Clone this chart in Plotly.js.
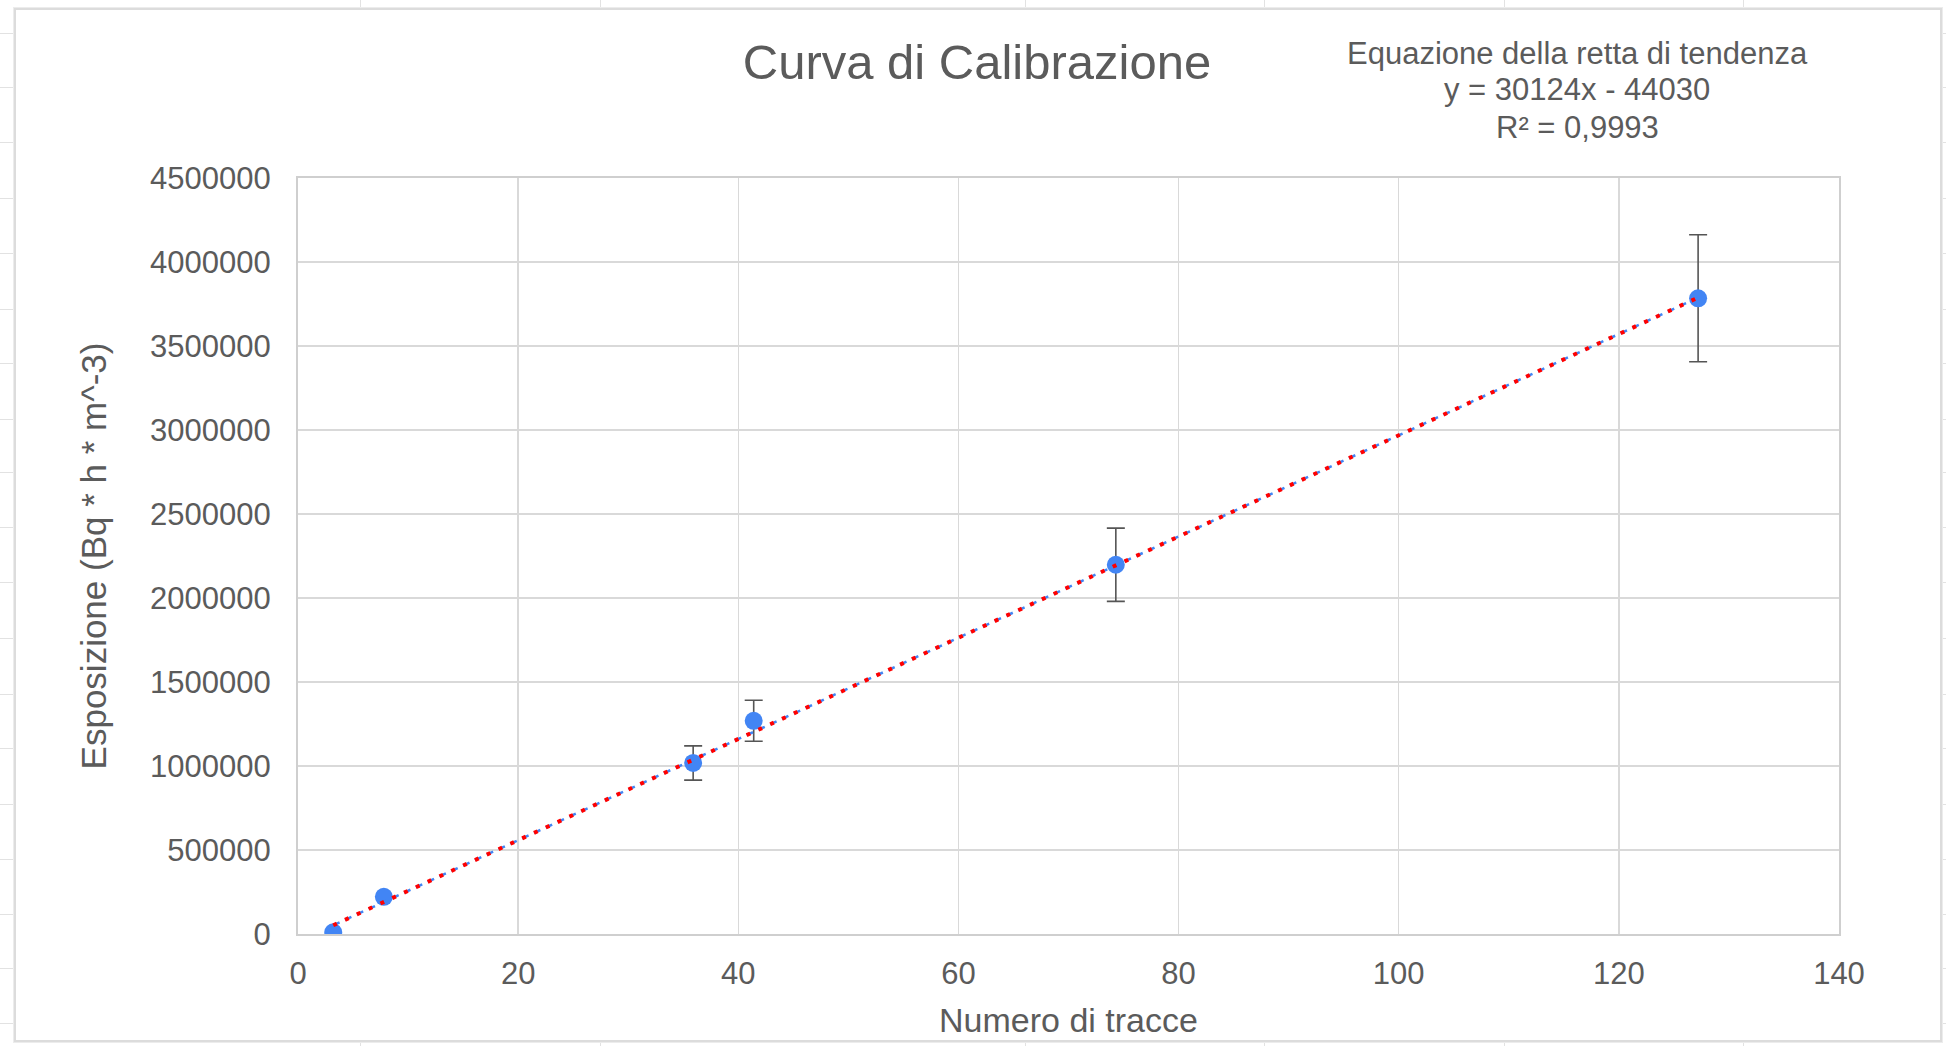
<!DOCTYPE html>
<html>
<head>
<meta charset="utf-8">
<script src="https://cdn.plot.ly/plotly-3.0.1.min.js"></script>
<style>
  html, body { margin: 0; padding: 0; background: #ffffff; }
  #wrap { position: relative; width: 1946px; height: 1046px; overflow: hidden; }
  .vline { position: absolute; top: 0; width: 1px; height: 1046px; background: #e2e2e2; }
  .hline { position: absolute; left: 0; height: 1px; width: 1946px; background: #e2e2e2; }
  #frame { position: absolute; left: 14px; top: 8px; width: 1924px; height: 1030px;
           background: #ffffff; border: 2px solid #dcdcdc; box-shadow: 0 0 0 1px #ececec; }
  #chart { position: absolute; left: 0; top: 0; width: 1946px; height: 1046px; }
</style>
</head>
<body>
<div id="wrap">
  <div id="bg"></div>
  <div id="frame"></div>
  <div id="chart"></div>
</div>
<script>
// ---- data ----
const tracce = [3.2, 7.8, 35.9, 41.4, 74.3, 127.2];
const esposizione = [10000, 221000, 1018000, 1269000, 2198000, 3784000];
const errore = [NaN, NaN, 102000, 122000, 218000, 378000];
// trend line (y = 30124x - 44030) endpoints as drawn
const trendX = [3.2, 127.2];
const trendY = [52000, 3788000];
const xTicks = [0, 20, 40, 60, 80, 100, 120, 140];
const yTicks = [0, 500000, 1000000, 1500000, 2000000, 2500000, 3000000, 3500000, 4000000, 4500000];
const titleText = "Curva di Calibrazione";
const xTitle = "Numero di tracce";
const yTitle = "Esposizione (Bq * h * m^-3)";
const eqLines = ["Equazione della retta di tendenza", "y = 30124x - 44030", "R² = 0,9993"];

// ---- spreadsheet background grid ----
const bg = document.getElementById('bg');
[360, 600, 1025, 1264, 1504, 1743].forEach(x => {
  const d = document.createElement('div'); d.className = 'vline'; d.style.left = x + 'px'; bg.appendChild(d);
});
[33, 87, 142, 198, 253, 309, 363, 419, 472, 527, 582, 638, 694, 748, 804, 859, 914, 968, 1023].forEach(y => {
  const d = document.createElement('div'); d.className = 'hline'; d.style.top = y + 'px'; bg.appendChild(d);
});

// ---- plot geometry (pixels) ----
const W = 1946, H = 1046;
const L = 298, R = 1839, T = 178, B = 934;
const px2x = p => (p - L) / (R - L);
const py2y = p => (B - p) / (B - T);

const FONT = "Liberation Sans, Arial, Helvetica, sans-serif";
const GRAY = "#5b5b5b";

const traces = [
  {
    x: tracce, y: esposizione, type: 'scatter', mode: 'markers',
    marker: { color: '#4285F4', size: 18 },
    error_y: { type: 'data', array: errore, visible: true, color: '#555555', thickness: 1.6, width: 9 },
    hoverinfo: 'x+y', showlegend: false
  },
  {
    x: trendX, y: trendY, type: 'scatter', mode: 'lines',
    line: { color: '#4285F4', width: 2.5, dash: '7px,6px' },
    showlegend: false, hoverinfo: 'skip'
  },
  {
    x: trendX, y: trendY, type: 'scatter', mode: 'lines',
    line: { color: '#ff0000', width: 4, dash: '4px,9px' },
    showlegend: false, hoverinfo: 'skip'
  }
];

const annotations = eqLines.map((t, i) => ({
  text: t, xref: 'paper', yref: 'paper',
  x: px2x(1577), y: py2y([53, 89, 127][i]),
  xanchor: 'center', yanchor: 'middle', showarrow: false,
  font: { family: FONT, size: 31, color: GRAY }
}));

const layout = {
  width: W, height: H,
  paper_bgcolor: 'rgba(0,0,0,0)', plot_bgcolor: '#ffffff',
  margin: { l: L, r: W - R, t: T, b: H - B, pad: 0 },
  font: { family: FONT, color: GRAY },
  title: {
    text: titleText, xref: 'container', yref: 'container',
    x: 977 / W, y: 1 - 62 / H, xanchor: 'center', yanchor: 'middle',
    font: { family: FONT, size: 49, color: GRAY }
  },
  xaxis: {
    range: [0, 140], tickvals: xTicks, ticktext: xTicks.map(String),
    showgrid: true, gridcolor: '#d9d9d9', gridwidth: 1.5,
    showline: true, linecolor: '#cfcfcf', linewidth: 2, mirror: true,
    zeroline: false, ticks: '', ticklabelstandoff: 11,
    tickfont: { family: FONT, size: 31, color: GRAY },
    title: { text: xTitle, standoff: 18, font: { family: FONT, size: 34, color: GRAY } },
    fixedrange: true
  },
  yaxis: {
    range: [0, 4500000], tickvals: yTicks, ticktext: yTicks.map(String),
    showgrid: true, gridcolor: '#d9d9d9', gridwidth: 1.5,
    showline: true, linecolor: '#cfcfcf', linewidth: 2, mirror: true,
    zeroline: false, ticks: '', ticklabelstandoff: 19,
    tickfont: { family: FONT, size: 31, color: GRAY },
    title: { text: yTitle, standoff: 33, font: { family: FONT, size: 35, color: GRAY } },
    fixedrange: true
  },
  annotations: annotations,
  showlegend: false
};

Plotly.newPlot('chart', traces, layout, { displayModeBar: false, staticPlot: true });
</script>
</body>
</html>
